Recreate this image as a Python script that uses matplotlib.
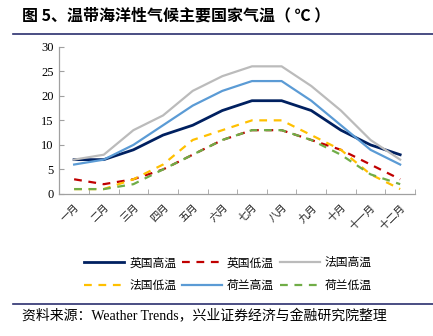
import matplotlib
matplotlib.use("Agg")
import matplotlib.pyplot as plt
from matplotlib.lines import Line2D
import numpy as np

# Monthly temperatures (°C)
months = ["一月", "二月", "三月", "四月", "五月", "六月",
          "七月", "八月", "九月", "十月", "十一月", "十二月"]
uk_high = [7, 7, 9, 12, 14, 17, 19, 19, 17, 13, 10, 8]
uk_low = [3, 2, 3, 5, 8, 11, 13, 13, 11, 9, 6, 3]
fr_high = [7, 8, 13, 16, 21, 24, 26, 26, 22, 17, 11, 7]
fr_low = [1, 1, 3, 6, 11, 13, 15, 15, 12, 9, 4, 1]
nl_high = [6, 7, 10, 14, 18, 21, 23, 23, 19, 14, 9, 6]
nl_low = [1, 1, 2, 5, 8, 11, 13, 13, 11, 8, 4, 2]

CJK = ["Noto Sans CJK SC", "DejaVu Sans"]
SERIF = ["Liberation Serif", "Noto Sans CJK SC"]

W, H = 433, 336
fig = plt.figure(figsize=(W / 100, H / 100), dpi=100)
ax = fig.add_axes([59.3 / W, 1 - 194 / H, (415 - 59.3) / W, (194 - 46.7) / H])

x = np.arange(len(months))
dash = (0, (3.5, 3))
series = [
    ("英国高温", uk_high, "#002060", "-", 2.0),
    ("英国低温", uk_low, "#C00000", dash, 1.6),
    ("法国高温", fr_high, "#BBBBBB", "-", 1.6),
    ("法国低温", fr_low, "#FFC000", dash, 1.6),
    ("荷兰高温", nl_high, "#5B9BD5", "-", 1.6),
    ("荷兰低温", nl_low, "#70AD47", dash, 1.6),
]
handles = {}
for name, vals, color, ls, lw in series:
    (ln,) = ax.plot(x, vals, color=color, linestyle=ls, linewidth=lw, label=name)
    handles[name] = ln

ax.set_xlim(-0.5, len(months) - 0.5)
ax.set_ylim(0, 30)
ax.set_yticks(np.arange(0, 31, 5))
ax.set_yticklabels([str(v) for v in range(0, 31, 5)], fontfamily=SERIF, fontsize=9)

# category labels at centres, tick marks at boundaries
ax.set_xticks(x)
ax.set_xticklabels(months, rotation=45, ha="right", va="top",
                   rotation_mode="anchor", fontfamily=CJK, fontsize=7.5, color="#222222")
ax.set_xticks(np.arange(-0.5, len(months)), minor=True)
ax.tick_params(axis="x", which="major", length=0, pad=6)
ax.tick_params(axis="x", which="minor", direction="in", length=3.5, color="#A0A0A0")
ax.tick_params(axis="y", direction="in", length=3.5, color="#A0A0A0", pad=4)

for s in ("top", "right"):
    ax.spines[s].set_visible(False)
for s in ("left", "bottom"):
    ax.spines[s].set_color("#A0A0A0")
    ax.spines[s].set_linewidth(0.9)

# legend: three per row
order = ["英国高温", "法国低温", "英国低温", "荷兰高温", "法国高温", "荷兰低温"]
fig.legend([handles[n] for n in order], order, ncol=3, frameon=False,
           loc="center", bbox_to_anchor=(228 / W, 1 - 274 / H),
           prop={"family": CJK, "size": 8.5}, handlelength=3.4,
           handletextpad=0.4, columnspacing=0.5, labelspacing=0.8)

# title and rules
fig.text(22 / W, 1 - 15 / H, "图 5、温带海洋性气候主要国家气温（ ℃ ）",
         fontfamily=CJK, fontsize=11.5, fontweight="bold", va="center", ha="left")
fig.add_artist(Line2D([13 / W, 1], [1 - 33.5 / H] * 2, color="#2B2F6E", linewidth=1.2))
fig.add_artist(Line2D([13 / W, 1], [1 - 304.3 / H] * 2, color="#2B2F6E", linewidth=1.2))
fig.text(22 / W, 1 - 316 / H, "资料来源：Weather Trends，兴业证券经济与金融研究院整理",
         fontfamily=SERIF, fontsize=10, va="center", ha="left")

fig.savefig("out.png", dpi=100)
